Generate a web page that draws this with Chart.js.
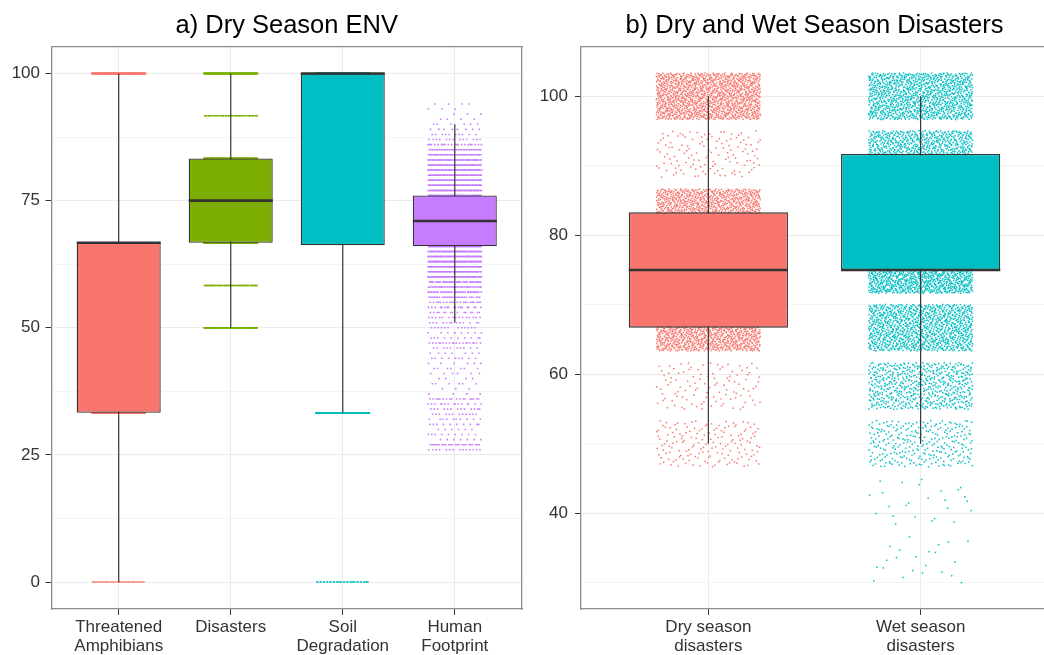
<!DOCTYPE html>
<html>
<head>
<meta charset="utf-8">
<script src="https://cdn.jsdelivr.net/npm/chart.js@4.4.1/dist/chart.umd.min.js"></script>
<style>
  html, body { margin: 0; padding: 0; background: #fff; overflow: hidden; width: 1044px; height: 655px; }
  .panel { position: absolute; top: 0; }
  .title { position: absolute; top: 9px; font-family: "Liberation Sans", Arial, sans-serif; font-size: 25.5px;
           line-height: 30px; color: #000; text-align: center; white-space: nowrap; }
</style>
</head>
<body>
<div class="panel" style="left:0;width:540px;height:690px"><canvas id="envChart"></canvas></div>
<div class="panel" style="left:530px;width:570px;height:690px"><canvas id="seasonChart"></canvas></div>
<div class="title" style="left:51.5px;width:470.5px">a) Dry Season ENV</div>
<div class="title" style="left:581px;width:467px">b) Dry and Wet Season Disasters</div>
<script>
// ---- panel a: dry season ENV ----
const envCategories = [["Threatened", "Amphibians"], ["Disasters"], ["Soil", "Degradation"], ["Human", "Footprint"]];
const envColors = ["#F8766D", "#7CAE00", "#00BFC4", "#C77CFF"];
const envLow = [0, 50, 33.3, 51];
const envQ1 = [33.3, 66.7, 66.2, 66];
const envMedian = [66.7, 75, 100, 71];
const envQ3 = [66.7, 83.3, 100, 76];
const envHigh = [100, 100, 100, 90];

const amphibianValues = [0, 33.3, 66.7, 100];
const amphibianCounts = [35, 200, 200, 300];
const disasterValues = [50, 58.3, 66.7, 75, 83.3, 91.7, 100];
const disasterCounts = [150, 60, 300, 300, 100, 45, 300];
const soilValues = [0, 33.3, 66.7, 100];
const soilCounts = [35, 400, 300, 400];
const footprintValues = [26, 27, 28, 29, 30, 31, 32, 33, 34, 35, 36, 37, 38, 39, 40, 41, 42, 43, 44, 45,
  46, 47, 48, 49, 50, 51, 52, 53, 54, 55, 56, 57, 58, 59, 60, 61, 62, 63, 64, 65, 66, 67, 68, 69, 70,
  71, 72, 73, 74, 75, 76, 77, 78, 79, 80, 81, 82, 83, 84, 85, 86, 87, 88, 89, 90, 91, 92, 93, 94];
const footprintCounts = [14, 24, 7, 9, 6, 10, 10, 12, 13, 15, 18, 4, 3, 6, 4, 6, 7, 6, 9, 7,
  10, 20, 10, 9, 12, 13, 15, 15, 18, 21, 27, 33, 42, 50, 56, 62, 68, 72, 75, 75, 78, 78, 75, 75, 75,
  75, 75, 75, 75, 75, 78, 75, 75, 72, 69, 67, 62, 56, 48, 33, 21, 13, 10, 8, 6, 4, 3, 3, 4];

const envTicks = [0, 25, 50, 75, 100];
const envMinorTicks = [12.5, 37.5, 62.5, 87.5];

// ---- panel b: dry and wet season disasters ----
const seasonCategories = [["Dry season", "disasters"], ["Wet season", "disasters"]];
const seasonColors = ["#F8766D", "#00BFC4"];
const seasonLow = [50, 50];
const seasonQ1 = [66.7, 75];
const seasonMedian = [75, 75];
const seasonQ3 = [83.3, 91.7];
const seasonHigh = [100, 100];

const seasonValues = [33.3, 41.7, 50, 58.3, 66.7, 75, 83.3, 91.7, 100];
const dryCounts = [0, 0, 160, 110, 1200, 1200, 1150, 130, 1250];
const wetCounts = [22, 25, 280, 580, 1050, 1300, 1000, 950, 1050];

const seasonTicks = [40, 60, 80, 100];
const seasonMinorTicks = [30, 50, 70, 90];

Chart.defaults.font.family = '"Liberation Sans", Arial, sans-serif';

const HALF_BOX = 0.375;
const INK = "#333333";
const FRAME = { color: "#8c8c8c", width: 1.3 };

// quasi-random spread so the jittered dots fill their band evenly
function halton(i, b) {
  let f = 1, r = 0;
  while (i > 0) { f /= b; r += f * (i % b); i = Math.floor(i / b); }
  return r;
}

function jitter(pos, values, counts, xSpread, ySpread, seed) {
  const pts = [];
  let k = seed;
  values.forEach((v, j) => {
    for (let n = 0; n < counts[j]; n++, k++) {
      pts.push({ x: pos + (halton(k, 2) * 2 - 1) * xSpread, y: v + (halton(k, 3) * 2 - 1) * ySpread });
    }
  });
  return pts;
}

function buildPanel(id, p) {
  const n = p.categories.length;
  const whiskers = [], medians = [];
  for (let i = 0; i < n; i++) {
    whiskers.push({ x: i + 1, y: p.low[i] }, { x: i + 1, y: p.high[i] }, { x: i + 1.5, y: null });
    medians.push({ x: i + 1 - HALF_BOX, y: p.median[i] }, { x: i + 1 + HALF_BOX, y: p.median[i] }, { x: i + 1.5, y: null });
  }

  const datasets = p.points.map((pts, i) => ({
    type: "scatter",
    data: pts,
    parsing: false,
    normalized: true,
    pointStyle: "rect",
    pointRadius: p.dotRadius,
    pointBorderWidth: 0,
    pointBackgroundColor: p.colors[i],
    order: 4,
  }));
  datasets.push({
    type: "line", data: whiskers, borderColor: INK, borderWidth: 1.2,
    pointRadius: 0, spanGaps: false, order: 3,
  });
  datasets.push({
    type: "bar",
    data: p.q1.map((q, i) => ({ x: i + 1, y: [q, p.q3[i]] })),
    backgroundColor: p.colors,
    borderColor: INK,
    borderWidth: 1.3,
    borderSkipped: false,
    barPercentage: 0.75,
    categoryPercentage: 1,
    order: 2,
  });
  datasets.push({
    type: "line", data: medians, borderColor: INK, borderWidth: 2.6,
    pointRadius: 0, spanGaps: false, order: 1,
  });

  const isMajor = (v) => p.ticks.includes(v);

  return new Chart(document.getElementById(id), {
    type: "bar",
    data: { datasets },
    options: {
      responsive: true,
      maintainAspectRatio: false,
      animation: false,
      events: [],
      layout: { padding: { top: 47, right: p.padRight, left: 0, bottom: 0 } },
      plugins: { legend: { display: false }, tooltip: { enabled: false } },
      scales: {
        x: {
          type: "linear",
          min: 0.4,
          max: n + 0.6,
          offset: false,
          afterBuildTicks: (s) => { s.ticks = p.categories.map((_, i) => ({ value: i + 1 })); },
          afterFit: (s) => { s.height = 81; },
          ticks: {
            autoSkip: false, maxRotation: 0, padding: 3.4, color: INK,
            font: { size: 17, lineHeight: 1.1 },
            callback: (v) => p.categories[v - 1],
          },
          grid: { color: "#ebebeb", tickColor: INK, tickLength: 6, offset: false },
          border: FRAME,
        },
        y: {
          min: p.yMin,
          max: p.yMax,
          afterBuildTicks: (s) => {
            s.ticks = p.ticks.concat(p.minorTicks).sort((a, b) => a - b).map((v) => ({ value: v }));
          },
          afterFit: (s) => { s.width = p.axisWidth; },
          ticks: {
            autoSkip: false, padding: p.labelGap, color: INK, font: { size: 17 },
            callback: (v) => (isMajor(v) ? String(v) : ""),
          },
          grid: {
            color: (c) => (isMajor(c.tick.value) ? "#ebebeb" : "#f5f5f5"),
            tickColor: (c) => (isMajor(c.tick.value) ? INK : "rgba(0,0,0,0)"),
            tickLength: 6,
          },
          border: FRAME,
        },
        xt: {
          type: "linear", position: "top",
          ticks: { display: false }, grid: { display: false }, border: FRAME,
          afterFit: (s) => { s.height = 0; },
        },
        yr: {
          type: "linear", position: "right",
          ticks: { display: false }, grid: { display: false }, border: FRAME,
          afterFit: (s) => { s.width = 0; },
        },
      },
    },
  });
}

buildPanel("envChart", {
  categories: envCategories,
  colors: envColors,
  low: envLow, q1: envQ1, median: envMedian, q3: envQ3, high: envHigh,
  points: [
    jitter(1, amphibianValues, amphibianCounts, 0.24, 0, 1),
    jitter(2, disasterValues, disasterCounts, 0.24, 0, 7),
    jitter(3, soilValues, soilCounts, 0.24, 0, 13),
    jitter(4, footprintValues, footprintCounts, 0.24, 0, 19),
  ],
  dotRadius: 1.1,
  yMin: -5.3, yMax: 105.2,
  ticks: envTicks, minorTicks: envMinorTicks,
  axisWidth: 51.5, labelGap: 5.5, padRight: 18,
});

buildPanel("seasonChart", {
  categories: seasonCategories,
  colors: seasonColors,
  low: seasonLow, q1: seasonQ1, median: seasonMedian, q3: seasonQ3, high: seasonHigh,
  points: [
    jitter(1, seasonValues, dryCounts, 0.245, 3.35, 1),
    jitter(2, seasonValues, wetCounts, 0.245, 3.35, 20001),
  ],
  dotRadius: 1.05,
  yMin: 26.2, yMax: 107.1,
  ticks: seasonTicks, minorTicks: seasonMinorTicks,
  axisWidth: 51, labelGap: 7, padRight: 52,
});
</script>
</body>
</html>
